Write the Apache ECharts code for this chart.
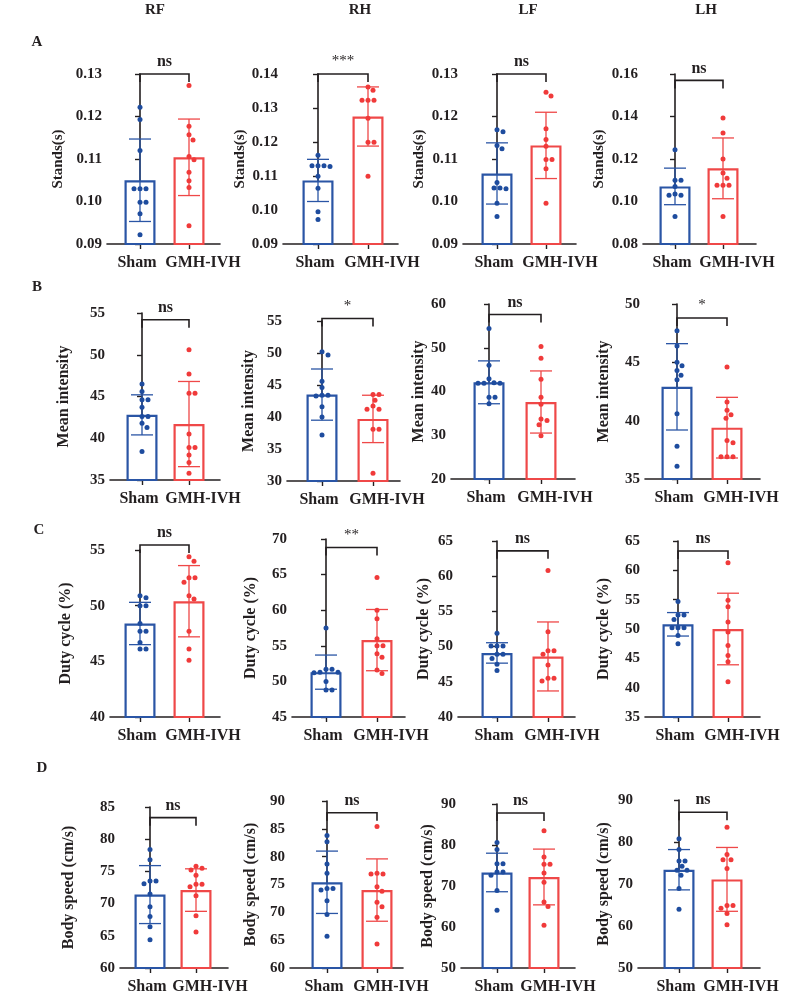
<!DOCTYPE html>
<html>
<head>
<meta charset="utf-8">
<script src="https://cdn.jsdelivr.net/npm/echarts@6/dist/echarts.min.js"></script>
<style>
  html, body { margin: 0; background: #fff; }
  #main { width: 788px; height: 1000px; }
</style>
</head>
<body>
<div id="main"></div>
<script>
// ---------------- data ----------------
var groups = ['Sham', 'GMH-IVH'];
var limbs = ['RF', 'RH', 'LF', 'LH'];
var rowLetters = ['A', 'B', 'C', 'D'];
var measures = ['Stands(s)', 'Mean intensity', 'Duty cycle (%)', 'Body speed (cm/s)'];

// A: stands
var standsSham = [
    [0.1222, 0.1193, 0.1120, 0.1030, 0.1030, 0.1030, 0.0998, 0.0998, 0.0971, 0.0922],
    [0.1161, 0.1130, 0.1130, 0.1130, 0.1128, 0.1099, 0.1064, 0.0995, 0.0972],
    [0.1169, 0.1164, 0.1132, 0.1124, 0.1045, 0.1032, 0.1032, 0.1030, 0.0996, 0.0965],
    [0.1244, 0.1100, 0.1100, 0.1071, 0.1035, 0.1029, 0.1029, 0.0930]
];
var standsGmh = [
    [0.1273, 0.1177, 0.1157, 0.1145, 0.1106, 0.1098, 0.1069, 0.1049, 0.1033, 0.0943],
    [0.1362, 0.1352, 0.1323, 0.1323, 0.1323, 0.1270, 0.1199, 0.1199, 0.1099],
    [0.1257, 0.1248, 0.1171, 0.1146, 0.1130, 0.1099, 0.1099, 0.1077, 0.0996],
    [0.1393, 0.1322, 0.1200, 0.1134, 0.1110, 0.1076, 0.1076, 0.1076, 0.0930]
];
var standsMean = [[0.1050, 0.1104], [0.1087, 0.1275], [0.1066, 0.1132], [0.1071, 0.1156]];
var standsSd = [[0.0097, 0.0090], [0.0062, 0.0087], [0.0072, 0.0078], [0.0086, 0.0143]];
var standsSig = ['ns', '***', 'ns', 'ns'];
var standsAxis = [[0.09, 0.13, 0.01], [0.09, 0.14, 0.01], [0.09, 0.13, 0.01], [0.08, 0.16, 0.02]];
var standsBracket = [0.13, 0.14, 0.13, 0.157];

// B: mean intensity
var intensitySham = [
    [46.5, 45.6, 44.6, 44.6, 43.7, 42.6, 42.6, 41.8, 41.3, 38.4],
    [50.2, 49.7, 45.6, 44.6, 43.4, 43.4, 43.3, 41.6, 40.0, 37.2],
    [54.4, 46.0, 42.9, 42.0, 41.9, 41.9, 41.9, 38.7, 38.7, 37.2],
    [47.7, 46.4, 45.0, 44.7, 44.3, 43.9, 43.5, 40.6, 37.8, 36.1]
];
var intensityGmh = [
    [50.6, 47.7, 45.4, 45.4, 40.5, 38.9, 38.9, 38.0, 37.1, 35.8],
    [43.5, 43.5, 42.6, 41.7, 41.2, 41.2, 38.1, 38.1, 31.2],
    [50.3, 47.6, 42.8, 38.7, 37.1, 33.7, 33.4, 32.4, 29.9],
    [44.6, 41.6, 40.9, 40.5, 40.2, 38.3, 38.1, 36.9, 36.9, 36.9]
];
var intensityMean = [[42.8, 41.7], [43.5, 39.7], [42.1, 37.6], [42.9, 39.4]];
var intensitySd = [[2.4, 5.1], [4.0, 3.7], [4.9, 7.1], [3.7, 2.6]];
var intensitySig = ['ns', '*', 'ns', '*'];
var intensityAxis = [[35, 55, 5], [30, 55, 5], [20, 60, 10], [35, 50, 5]];
var intensityBracket = [54.2, 55.4, 57.6, 48.8];

// C: duty cycle
var dutySham = [
    [50.9, 50.7, 50.0, 50.0, 48.4, 47.7, 47.7, 46.7, 46.1, 46.1],
    [57.5, 51.7, 51.7, 51.3, 51.3, 51.2, 50.0, 48.8, 48.8],
    [51.9, 50.1, 50.1, 50.1, 48.9, 48.9, 48.3, 47.5, 46.6],
    [54.7, 52.4, 52.4, 51.6, 50.2, 50.2, 50.2, 48.9, 47.5]
];
var dutyGmh = [
    [54.4, 54.0, 52.5, 52.5, 52.1, 50.9, 50.6, 47.7, 46.1, 45.1],
    [64.6, 60.0, 58.8, 56.0, 55.0, 55.0, 53.9, 53.4, 51.6, 51.1],
    [60.8, 52.1, 49.4, 49.4, 48.9, 47.4, 45.5, 45.5, 45.1],
    [61.3, 54.9, 53.8, 51.2, 49.5, 47.2, 45.5, 44.4, 41.0]
];
var dutyMean = [[48.4, 50.4], [51.3, 55.8], [49.1, 48.6], [50.8, 50.0]];
var dutySd = [[1.9, 3.2], [2.4, 4.3], [1.45, 4.9], [2.0, 6.1]];
var dutySig = ['ns', '**', 'ns', 'ns'];
var dutyAxis = [[40, 55, 5], [45, 70, 5], [40, 65, 5], [35, 65, 5]];
var dutyBracket = [55.45, 68.8, 63.6, 63.3];

// D: body speed
var speedSham = [
    [78.4, 76.8, 73.5, 73.5, 73.1, 71.5, 69.5, 68.0, 66.4, 64.4],
    [83.8, 82.7, 78.7, 77.0, 74.3, 74.3, 74.0, 72.1, 69.6, 65.7],
    [80.6, 78.9, 75.4, 75.4, 73.4, 73.4, 72.6, 68.9, 64.1],
    [80.8, 78.2, 75.5, 75.5, 74.2, 73.3, 73.3, 72.1, 68.9, 64.0]
];
var speedGmh = [
    [75.8, 75.5, 75.2, 74.4, 73.0, 73.0, 72.6, 71.2, 68.1, 65.6],
    [85.4, 77.0, 76.9, 76.9, 74.6, 73.8, 71.8, 71.0, 69.1, 64.3],
    [83.5, 77.1, 75.3, 75.3, 73.2, 70.9, 66.1, 65.0, 60.4],
    [83.5, 77.0, 75.8, 75.8, 73.7, 64.9, 64.9, 64.2, 63.0, 60.3]
];
var speedMean = [[71.4, 72.1], [75.4, 74.0], [73.3, 72.2], [73.4, 71.1]];
var speedSd = [[4.5, 3.3], [5.6, 5.6], [4.7, 6.8], [4.8, 7.6]];
var speedSig = ['ns', 'ns', 'ns', 'ns'];
var speedAxis = [[60, 85, 5], [60, 90, 5], [50, 90, 10], [50, 90, 10]];
var speedBracket = [83.35, 87.9, 87.8, 87.1];

// ---------------- layout ----------------
// [left, top, width, height, first bar offset, bar spacing] in px
var panelBox = [
    [[107, 74, 113, 170, 33, 49], [283, 74, 115, 170, 35, 50], [463, 74, 113, 170, 34, 49], [643, 74, 113, 170, 32, 48]],
    [[110, 313, 110, 167, 32, 47], [287, 321, 113, 160, 35, 51], [451, 304, 124, 175, 38, 52], [645, 304, 115, 175, 32, 50]],
    [[110, 550, 110, 167, 30, 49], [292, 539, 113, 178, 34, 51], [458, 541, 117, 176, 39, 51], [645, 541, 115, 176, 33, 50]],
    [[120, 807, 108, 161, 30, 46], [290, 801, 113, 167, 37, 50], [461, 804, 114, 164, 36, 47], [638, 800, 122, 168, 41, 48]]
];
var nameGap = [[41, 34, 36, 36], [38, 30, 22, 33], [36, 33, 26, 33], [43, 31, 25, 26]];
var groupLabelShift = [-3, 14];
var headerX = [155, 360, 528, 706];
var letterPos = [[37, 42], [37, 287], [39, 530], [42, 768]];

var FONT = '"Liberation Serif", "DejaVu Serif", serif';
var INK = '#231f20';
var barColors = ['#2a55a5', '#ef4848'];
var dotColors = ['#1e4c9e', '#f03a3a'];

var rows = [
    { sham: standsSham, gmh: standsGmh, mean: standsMean, sd: standsSd, sig: standsSig, axis: standsAxis, bracket: standsBracket, digits: 2 },
    { sham: intensitySham, gmh: intensityGmh, mean: intensityMean, sd: intensitySd, sig: intensitySig, axis: intensityAxis, bracket: intensityBracket, digits: 0 },
    { sham: dutySham, gmh: dutyGmh, mean: dutyMean, sd: dutySd, sig: dutySig, axis: dutyAxis, bracket: dutyBracket, digits: 0 },
    { sham: speedSham, gmh: speedGmh, mean: speedMean, sd: speedSd, sig: speedSig, axis: speedAxis, bracket: speedBracket, digits: 0 }
];

// spread overlapping dots sideways (simple beeswarm in pixel space)
function swarm(values, gi, pxPerVal, spacing) {
    var placed = [];
    var out = [];
    var sorted = values.slice().sort(function (a, b) { return b - a; });
    sorted.forEach(function (v) {
        var py = v * pxPerVal;
        var dx = 0;
        for (var k = 0; k < 40; k++) {
            var cand = (k % 2 === 1 ? 1 : -1) * Math.ceil(k / 2);
            var ok = placed.every(function (p) {
                var ddx = p[0] - cand, ddy = p[1] - py;
                return ddx * ddx + ddy * ddy >= 36;
            });
            if (ok) { dx = cand; break; }
        }
        placed.push([dx, py]);
        out.push([gi + dx / spacing, v]);
    });
    return out;
}

var grids = [], xAxes = [], yAxes = [], series = [], graphics = [];

rows.forEach(function (row, r) {
    for (var c = 0; c < 4; c++) {
        var b = panelBox[r][c];
        var idx = grids.length;
        var ax = row.axis[c];
        var digits = row.digits;
        var pxPerVal = b[3] / (ax[1] - ax[0]);
        var spacing = b[5];

        grids.push({ left: b[0], top: b[1], width: b[2], height: b[3] });

        xAxes.push({
            type: 'value', gridIndex: idx,
            min: -b[4] / spacing, max: (b[2] - b[4]) / spacing,
            axisLine: { show: true, onZero: false, lineStyle: { color: INK, width: 1.6 } },
            axisTick: { show: true, length: 5, customValues: [0, 1], lineStyle: { color: INK, width: 1.4 } },
            axisLabel: { show: false },
            splitLine: { show: false }
        });

        yAxes.push({
            type: 'value', gridIndex: idx,
            min: ax[0], max: ax[1], interval: ax[2],
            name: measures[r], nameLocation: 'middle', nameGap: nameGap[r][c],
            nameTextStyle: { fontFamily: FONT, fontWeight: 'bold', fontSize: r === 0 ? 15 : 16, color: INK },
            axisLine: { show: true, lineStyle: { color: INK, width: 1.6 } },
            axisTick: { show: true, length: 5, lineStyle: { color: INK, width: 1.4 } },
            axisLabel: {
                margin: 5, fontFamily: FONT, fontWeight: 'bold', fontSize: 15, color: INK,
                formatter: (function (d) { return function (v) { return v.toFixed(d); }; })(digits)
            },
            splitLine: { show: false }
        });

        // hollow bars
        series.push({
            type: 'bar', xAxisIndex: idx, yAxisIndex: idx,
            barWidth: 31, clip: true, silent: true,
            data: [0, 1].map(function (g) {
                return {
                    value: [g, row.mean[c][g]],
                    itemStyle: { color: '#fff', borderColor: barColors[g], borderWidth: 2.2 }
                };
            }),
            z: 2
        });

        // error bars (mean +/- SD)
        series.push({
            type: 'custom', xAxisIndex: idx, yAxisIndex: idx, silent: true, z: 3,
            data: [0, 1].map(function (g) { return [g, row.mean[c][g], row.sd[c][g]]; }),
            renderItem: function (params, api) {
                var g = api.value(0), m = api.value(1), s = api.value(2);
                var top = api.coord([g, m + s]);
                var bot = api.coord([g, m - s]);
                var st = { stroke: barColors[g], lineWidth: 1.3 };
                return {
                    type: 'group', children: [
                        { type: 'line', shape: { x1: top[0], y1: top[1], x2: bot[0], y2: bot[1] }, style: st },
                        { type: 'line', shape: { x1: top[0] - 11, y1: top[1], x2: top[0] + 11, y2: top[1] }, style: st },
                        { type: 'line', shape: { x1: bot[0] - 11, y1: bot[1], x2: bot[0] + 11, y2: bot[1] }, style: st }
                    ]
                };
            }
        });

        // individual animals
        [row.sham[c], row.gmh[c]].forEach(function (vals, g) {
            series.push({
                type: 'scatter', xAxisIndex: idx, yAxisIndex: idx, silent: true, z: 4,
                symbolSize: 5, itemStyle: { color: dotColors[g], opacity: 1 },
                data: swarm(vals, g, pxPerVal, spacing)
            });
        });

        // group names under the x axis
        series.push({
            type: 'custom', xAxisIndex: idx, yAxisIndex: idx, silent: true, z: 5,
            data: [[0, ax[0]], [1, ax[0]]],
            renderItem: function (params, api) {
                var g = api.value(0);
                var p = api.coord([g, api.value(1)]);
                return {
                    type: 'text', x: p[0] + groupLabelShift[g], y: p[1] + 19,
                    style: {
                        text: groups[g], fill: INK, align: 'center', verticalAlign: 'middle',
                        font: 'bold 16px ' + FONT
                    }
                };
            }
        });

        // significance bracket
        series.push({
            type: 'custom', xAxisIndex: idx, yAxisIndex: idx, silent: true, z: 5,
            data: [[0, 1, row.bracket[c]]],
            renderItem: (function (label) {
                return function (params, api) {
                    var p0 = api.coord([api.value(0), api.value(2)]);
                    var p1 = api.coord([api.value(1), api.value(2)]);
                    var stars = label !== 'ns';
                    return {
                        type: 'group', children: [
                            {
                                type: 'polyline',
                                shape: { points: [[p0[0], p0[1] + 8], [p0[0], p0[1]], [p1[0], p1[1]], [p1[0], p1[1] + 8]] },
                                style: { stroke: INK, lineWidth: 1.6, fill: null }
                            },
                            {
                                type: 'text',
                                x: (p0[0] + p1[0]) / 2, y: p0[1] - (stars ? 5 : 4),
                                style: {
                                    text: label, fill: INK, align: 'center', verticalAlign: 'bottom',
                                    font: (stars ? 'normal 15px ' : 'bold 16px ') + FONT
                                }
                            }
                        ]
                    };
                };
            })(row.sig[c])
        });
    }
});

limbs.forEach(function (t, i) {
    graphics.push({
        type: 'text', x: headerX[i], y: 10,
        style: { text: t, font: 'bold 15px ' + FONT, fill: INK, align: 'center', verticalAlign: 'middle' }
    });
});
rowLetters.forEach(function (t, i) {
    graphics.push({
        type: 'text', x: letterPos[i][0], y: letterPos[i][1],
        style: { text: t, font: 'bold 15px ' + FONT, fill: INK, align: 'center', verticalAlign: 'middle' }
    });
});

var chart = echarts.init(document.getElementById('main'), null, { renderer: 'canvas' });
chart.setOption({
    backgroundColor: '#fff',
    animation: false,
    grid: grids,
    xAxis: xAxes,
    yAxis: yAxes,
    series: series,
    graphic: graphics
});
</script>
</body>
</html>
